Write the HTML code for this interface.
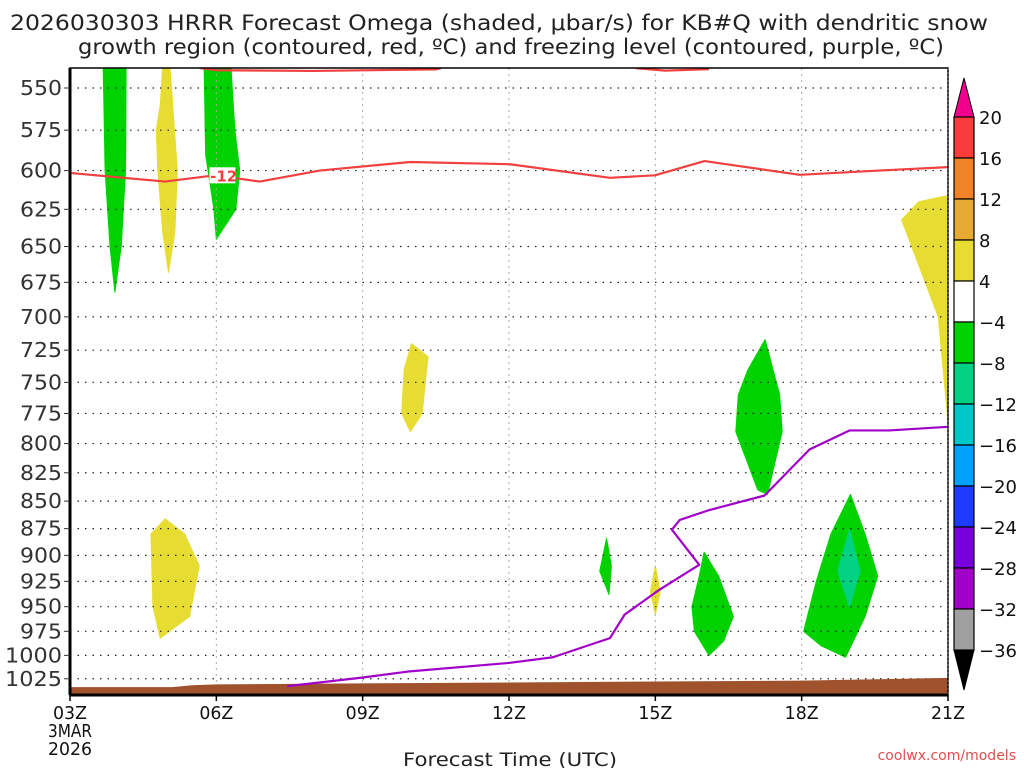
<!DOCTYPE html>
<html><head><meta charset="utf-8"><style>
body{margin:0;background:#fff;}
svg{display:block;font-family:"DejaVu Sans","Liberation Sans",sans-serif;}
</style></head><body>
<svg id="chart" width="1024" height="768" viewBox="0 0 1024 768">
<text x="10" y="30" textLength="978" lengthAdjust="spacingAndGlyphs" font-size="21" fill="#222">2026030303 HRRR Forecast Omega (shaded, μbar/s) for KB#Q with dendritic snow</text>
<text x="78" y="54" textLength="866" lengthAdjust="spacingAndGlyphs" font-size="21" fill="#222">growth region (contoured, red, ºC) and freezing level (contoured, purple, ºC)</text>
<g id="plot"></g>
<g id="cbar"></g>
<text x="403" y="766" textLength="214" lengthAdjust="spacingAndGlyphs" font-size="19" fill="#222">Forecast Time (UTC)</text>
<text x="1016" y="760" text-anchor="end" font-size="14" fill="#e05050">coolwx.com/models</text>
</svg>
<script>
const NS="http://www.w3.org/2000/svg";
const pLevels=[550,575,600,625,650,675,700,725,750,775,800,825,850,875,900,925,950,975,1000,1025];
const xHours=[0,3,6,9,12,15,18];
const xLabels=["03Z","06Z","09Z","12Z","15Z","18Z","21Z"];
const cbarLabels=["20","16","12","8","4","\u22124","\u22128","\u221212","\u221216","\u221220","\u221224","\u221228","\u221232","\u221236"];
const cbarColors=["#f83c3c","#f08228","#e6aa32","#e6dc32","#ffffff","#00d200","#00d282","#00c8c8","#00a0ff","#1e3cff","#7800dc","#a000c8","#a0a0a0"];
// shaded omega regions: [hour, pressure] pairs
const greenA=[[0.68,538],[1.15,538],[1.14,600],[1.05,650],[0.92,682],[0.82,650],[0.72,600]];
const yellowA=[[1.9,538],[2.05,538],[2.13,570],[2.2,600],[2.15,640],[2.02,668],[1.9,640],[1.8,600],[1.77,575],[1.85,560]];
const greenB=[[2.75,538],[3.3,538],[3.38,575],[3.48,600],[3.4,625],[3.0,645],[2.95,625],[2.78,590]];
const yellowB=[[7.0,720],[7.34,730],[7.22,775],[6.98,790],[6.8,775],[6.85,740]];
const yellowC=[[1.66,880],[1.95,866],[2.35,880],[2.65,910],[2.45,960],[1.85,982],[1.7,950]];
const greenC=[[11.0,884],[11.1,910],[11.05,938],[10.86,915]];
const yellowD=[[12.0,910],[12.1,935],[12.0,958],[11.9,935]];
const greenD=[[13.0,897],[13.3,920],[13.6,960],[13.4,985],[13.1,1000],[12.8,975],[12.75,950],[12.9,920]];
const greenE=[[14.25,717],[14.55,760],[14.6,790],[14.3,844],[14.1,840],[13.65,790],[13.7,760],[13.9,740]];
const greenF=[[16.0,844],[16.3,880],[16.56,920],[16.3,960],[15.9,1002],[15.4,990],[15.04,975],[15.3,925],[15.6,880]];
const tealF=[[15.98,876],[16.2,915],[15.98,950],[15.74,915]];
const yellowE=[[17.4,620],[18,616],[18,782],[17.8,700],[17.05,632]];
// contours
const dgzHours=[0,1.95,2.97,3.89,5.12,6.97,9.02,11.07,11.99,13.01,14.96,16.39,18];
const dgzPres=[601.5,607,603,607,600,594.6,596,604.6,603,594,602.7,600.3,597.8];
const dgzTopA=[[2.65,538.5],[3.0,539.8],[5.0,540.2],[7.5,539.3],[7.6,538.6]];
const dgzTopB=[[11.6,538.6],[12.2,540],[13.1,539.2]];
const frzHours=[4.45,5.94,6.97,9.0,9.9,11.07,11.37,12.09,12.9,12.34,12.5,13.11,14.24,15.16,15.98,16.8,18];
const frzPres=[1033,1024,1017,1008,1002,982,958,933,909,876,867,858,845,805,789,789,786];
const terrHours=[0,2.1,2.5,3.0,6,9,12,15,18];
const terrPres=[1034,1034,1032,1031,1030,1029,1028,1027,1024];

const X0=70,X1=948,Y0=68,Y1=695,PX=(X1-X0)/18,KY=949;
const x=h=>X0+h*PX;
const y=p=>88+Math.log(p/550)*KY;
const plot=document.getElementById('plot');
function mk(tag,attrs,parent){const e=document.createElementNS(NS,tag);for(const k in attrs)e.setAttribute(k,attrs[k]);(parent||plot).appendChild(e);return e;}
const clip=mk('clipPath',{id:'pc'});mk('rect',{x:X0,y:Y0,width:X1-X0,height:Y1-Y0},clip);
const g=mk('g',{'clip-path':'url(#pc)'});
function poly(pts,fill,name){const e=mk('polygon',{points:pts.map(q=>x(q[0])+','+y(q[1])).join(' '),fill:fill,'stroke':fill,'stroke-linejoin':'round','stroke-width':1},g);

}
poly(greenA,'#00d200','omega-region-green-1');
poly(yellowA,'#e6dc32','omega-region-yellow-1');
poly(greenB,'#00d200','omega-region-green-2');
poly(yellowB,'#e6dc32','omega-region-yellow-2');
poly(yellowC,'#e6dc32','omega-region-yellow-3');
poly(greenC,'#00d200','omega-region-green-3');
poly(yellowD,'#e6dc32','omega-region-yellow-4');
poly(greenD,'#00d200','omega-region-green-4');
poly(greenE,'#00d200','omega-region-green-5');
poly(greenF,'#00d200','omega-region-green-6');
poly(tealF,'#00d282','omega-region-teal-1');
poly(yellowE,'#e6dc32','omega-region-yellow-5');
// grid
pLevels.forEach(p=>{const l=mk('line',{x1:X0,x2:X1,y1:y(p),y2:y(p),stroke:'#222','stroke-width':1.2,'stroke-dasharray':'1.5 6'},g);

});
xHours.forEach(h=>{const l=mk('line',{x1:x(h),x2:x(h),y1:Y0,y2:Y1,stroke:'#aaa','stroke-width':1,'stroke-dasharray':'2 4'},g);

});
// terrain
const tp=terrHours.map((h,i)=>x(h)+','+y(terrPres[i])).join(' ')+' '+X1+','+Y1+' '+X0+','+Y1;
const tr=mk('polygon',{points:tp,fill:'#a0522d'},g);


// contours
const d1=mk('polyline',{points:dgzHours.map((h,i)=>x(h)+','+y(dgzPres[i])).join(' '),fill:'none',stroke:'#f04040','stroke-width':2.2,'stroke-linejoin':'round'},g);


[dgzTopA,dgzTopB].forEach(a=>{const d=mk('polyline',{points:a.map(q=>x(q[0])+','+y(q[1])).join(' '),fill:'none',stroke:'#f04040','stroke-width':2.2},g);

});
const lb=mk('rect',{x:x(2.9)-2,y:y(603)-8,width:26,height:16,fill:'#fff'},g);
const lt=mk('text',{x:x(3.15),y:y(603)+6,'text-anchor':'middle','font-size':15,'font-weight':'bold',fill:'#f04040'},g);lt.textContent='-12';


const fz=mk('polyline',{points:frzHours.map((h,i)=>x(h)+','+y(frzPres[i])).join(' '),fill:'none',stroke:'#a000c8','stroke-width':2.2,'stroke-linejoin':'round'},g);


// frame
mk('rect',{x:X0,y:Y0,width:X1-X0,height:Y1-Y0,fill:'none',stroke:'#000','stroke-width':1.5});
mk('line',{x1:X0,x2:X0,y1:Y0,y2:Y1,stroke:'#000','stroke-width':3});
mk('line',{x1:X0,x2:X1,y1:Y1,y2:Y1,stroke:'#000','stroke-width':3});
mk('line',{x1:X1,x2:X1,y1:Y0,y2:Y1,stroke:'#444','stroke-width':1,'stroke-dasharray':'2 2'});
// y labels
pLevels.forEach(p=>{const s=String(p);const t=mk('text',{x:62-(s.length===4?57:42),y:y(p)+7,textLength:(s.length===4?57:42),lengthAdjust:'spacingAndGlyphs','font-size':20,fill:'#333'});t.textContent=s;


mk('line',{x1:X0-6,x2:X0,y1:y(p),y2:y(p),stroke:'#333'});});
xHours.forEach((h,i)=>{mk('line',{x1:x(h),x2:x(h),y1:Y1,y2:Y1+6,stroke:'#000','stroke-width':1.5});
const t=mk('text',{x:x(h)-17,y:719,textLength:34,lengthAdjust:'spacingAndGlyphs','font-size':18,fill:'#111'});t.textContent=xLabels[i];

});
[['3MAR',737],['2026',755]].forEach(a=>{const t=mk('text',{x:X0-22,y:a[1],textLength:44,lengthAdjust:'spacingAndGlyphs','font-size':18,fill:'#111'});t.textContent=a[0];

});
// colorbar
const cb=document.getElementById('cbar');const CX=954,CW=20,CT=117,CS=41;
mk('polygon',{points:`${CX},${CT} ${CX+CW/2},78 ${CX+CW},${CT}`,fill:'#f0008c',stroke:'#000'},cb);
mk('polygon',{points:`${CX},${CT+13*CS} ${CX+CW/2},690 ${CX+CW},${CT+13*CS}`,fill:'#000',stroke:'#000'},cb);
cbarColors.forEach((c,i)=>{const r=mk('rect',{x:CX,y:CT+i*CS,width:CW,height:CS,fill:c,stroke:'#000','stroke-width':1.2},cb);

});
cbarLabels.forEach((s,i)=>{const t=mk('text',{x:979,y:CT+i*CS+7,'font-size':18,fill:'#111'},cb);t.textContent=s;

});
</script>
</body></html>
